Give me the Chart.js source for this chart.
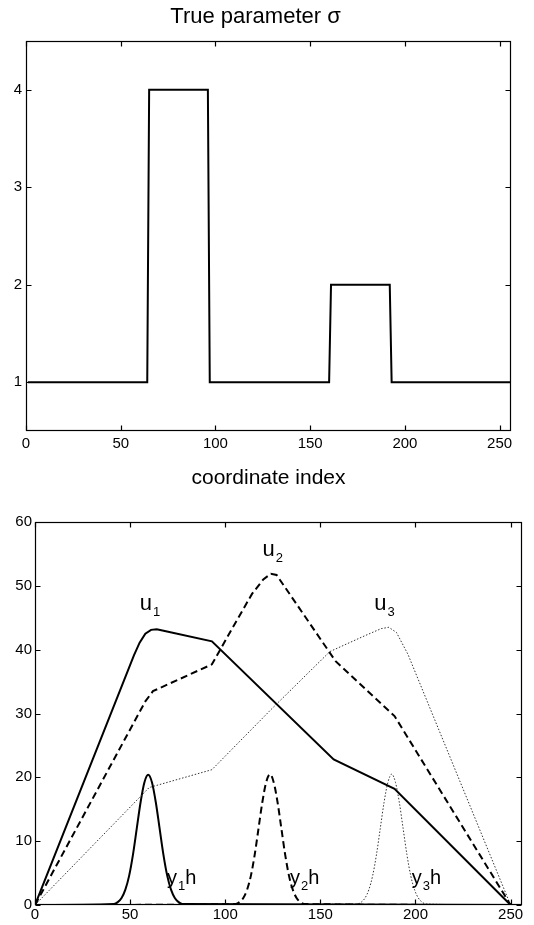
<!DOCTYPE html>
<html>
<head>
<meta charset="utf-8">
<script src="https://cdn.jsdelivr.net/npm/chart.js@4.4.1/dist/chart.umd.min.js"></script>
<style>
  html, body { margin: 0; padding: 0; background: #fff; }
  #wrap { position: relative; width: 534px; height: 925px; }
  .box { position: absolute; left: 0; width: 534px; }
  #top { top: 0; height: 500px; }
  #bottom { top: 500px; height: 425px; }
</style>
</head>
<body>
<div id="wrap">
  <div class="box" id="top"><canvas id="sigmaChart"></canvas></div>
  <div class="box" id="bottom"><canvas id="fieldChart"></canvas></div>
</div>
<script>
// top panel: true sigma (step function)
const sigmaX = [1, 64, 65, 96, 97, 160, 161, 192, 193, 256];
const sigmaY = [1, 1, 4, 4, 1, 1, 2, 2, 1, 1];
const sigmaTicksY = [1, 2, 3, 4];

// shared x ticks
const indexTicks = [0, 50, 100, 150, 200, 250];

// bottom panel: fields u1..u3
const u1X = [0, 52, 55, 58, 61, 64, 67, 93, 157, 189, 250];
const u1Y = [0, 39.1, 41.1, 42.5, 43.1, 43.2, 43.0, 41.3, 22.8, 18.2, 0];
const u2X = [0, 58, 62, 93, 104, 114, 120, 124, 127, 158, 189, 250];
const u2Y = [0, 31.9, 33.5, 37.7, 43.5, 48.7, 51.0, 51.9, 51.7, 38.2, 29.6, 0];
const u3X = [0, 60, 93, 124, 155, 172, 182, 186, 190, 196, 250];
const u3Y = [0, 18.4, 21.2, 30.6, 39.7, 42.0, 43.3, 43.5, 42.7, 39.3, 0];

// bottom panel: measurement bumps y1h..y3h
const y1hX = [0, 41.5, 43.5, 45.5, 47.5, 49.5, 51.5, 53.5, 55.5, 57.5, 59.5, 61.5, 63.5, 65.5, 67.5, 69.5, 71.5, 73.5, 75.5, 77.5, 256];
const y2hX = [0, 105.5, 107.5, 109.5, 111.5, 113.5, 115.5, 117.5, 119.5, 121.5, 123.5, 125.5, 127.5, 129.5, 131.5, 133.5, 135.5, 137.5, 139.5, 141.5, 256];
const y3hX = [0, 169.5, 171.5, 173.5, 175.5, 177.5, 179.5, 181.5, 183.5, 185.5, 187.5, 189.5, 191.5, 193.5, 195.5, 197.5, 199.5, 201.5, 203.5, 205.5, 256];
const y1hY = [0, 0.15, 0.45, 1.1, 2.4, 4.6, 7.9, 12.0, 16.1, 19.2, 20.4, 19.2, 16.1, 12.0, 7.9, 4.6, 2.4, 1.1, 0.45, 0.15, 0];
const y2hY = [0, 0.15, 0.45, 1.1, 2.4, 4.6, 7.9, 12.0, 16.1, 19.2, 20.5, 19.2, 16.1, 12.0, 7.9, 4.6, 2.4, 1.1, 0.45, 0.15, 0];
const y3hY = [0, 0.15, 0.45, 1.1, 2.4, 4.6, 7.9, 12.0, 16.1, 19.2, 20.5, 19.2, 16.1, 12.0, 7.9, 4.6, 2.4, 1.1, 0.45, 0.15, 0];
const fieldTicksY = [0, 10, 20, 30, 40, 50, 60];

// curve labels, placed in data units (left edge, baseline)
const curveLabels = [
  { main: 'u', sub: '1', tail: '', x: 55.1, y: 46.2 },
  { main: 'u', sub: '2', tail: '', x: 119.6, y: 54.6 },
  { main: 'u', sub: '3', tail: '', x: 178.3, y: 46.2 },
  { main: 'y', sub: '1', tail: 'h', x: 69.4, y: 3.3 },
  { main: 'y', sub: '2', tail: 'h', x: 134.1, y: 3.3 },
  { main: 'y', sub: '3', tail: 'h', x: 198.0, y: 3.3 }
];

const FONT = "'Liberation Sans', Arial, sans-serif";

function pts(xs, ys) {
  return xs.map((x, i) => ({ x: x, y: ys[i] }));
}

// matlab-style box with inward ticks on all four sides
const boxFrame = {
  id: 'boxFrame',
  afterDraw(chart) {
    const { ctx, chartArea: a, scales } = chart;
    const L = Math.round(a.left) + 0.5, R = Math.round(a.right) - 0.5;
    const T = Math.round(a.top) + 0.5, B = Math.round(a.bottom) - 0.5;
    ctx.save();
    ctx.strokeStyle = '#000';
    ctx.lineWidth = 1.2;
    ctx.strokeRect(L, T, R - L, B - T);
    ctx.beginPath();
    scales.x.ticks.forEach(t => {
      const px = Math.round(scales.x.getPixelForValue(t.value)) + 0.5;
      ctx.moveTo(px, B); ctx.lineTo(px, B - 5);
      ctx.moveTo(px, T); ctx.lineTo(px, T + 5);
    });
    scales.y.ticks.forEach(t => {
      const py = Math.round(scales.y.getPixelForValue(t.value)) + 0.5;
      ctx.moveTo(L, py); ctx.lineTo(L + 5, py);
      ctx.moveTo(R, py); ctx.lineTo(R - 5, py);
    });
    ctx.stroke();
    ctx.restore();
  }
};

const curveText = {
  id: 'curveText',
  afterDraw(chart) {
    const { ctx, scales } = chart;
    ctx.save();
    ctx.fillStyle = '#000';
    ctx.textBaseline = 'alphabetic';
    ctx.textAlign = 'left';
    curveLabels.forEach(l => {
      let px = scales.x.getPixelForValue(l.x);
      const py = scales.y.getPixelForValue(l.y);
      const big = l.main === 'u' ? 22 : 20;
      ctx.font = big + 'px ' + FONT;
      ctx.fillText(l.main, px, py);
      px += ctx.measureText(l.main).width + 1;
      ctx.font = '13px ' + FONT;
      ctx.fillText(l.sub, px, py + 6);
      px += ctx.measureText(l.sub).width;
      if (l.tail) {
        ctx.font = big + 'px ' + FONT;
        ctx.fillText(l.tail, px, py);
      }
    });
    ctx.restore();
  }
};

function xAxis(height, pad, titleOpts) {
  return {
    type: 'linear',
    min: 0,
    max: 256,
    afterBuildTicks: s => { s.ticks = indexTicks.map(v => ({ value: v })); },
    afterFit: s => { s.height = height; },
    grid: { display: false, drawTicks: false },
    border: { display: false },
    ticks: { color: '#000', padding: pad, maxRotation: 0, font: { family: FONT, size: 15 } },
    title: titleOpts
  };
}

function yAxis(width, min, max, tickList, pad) {
  return {
    type: 'linear',
    min: min,
    max: max,
    afterBuildTicks: s => { s.ticks = tickList.map(v => ({ value: v })); },
    afterFit: s => { s.width = width; },
    grid: { display: false, drawTicks: false },
    border: { display: false },
    ticks: { color: '#000', padding: pad, font: { family: FONT, size: 15 } }
  };
}

function drawSigma() {
  new Chart(document.getElementById('sigmaChart'), {
    type: 'line',
    data: {
      datasets: [{
        data: pts(sigmaX, sigmaY),
        borderColor: '#000',
        borderWidth: 2,
        pointRadius: 0,
        tension: 0
      }]
    },
    options: {
      responsive: true,
      maintainAspectRatio: false,
      animation: false,
      layout: { padding: { top: 0, right: 23, bottom: 0, left: 0 } },
      plugins: {
        legend: { display: false },
        tooltip: { enabled: false },
        title: {
          display: true,
          text: 'True parameter σ',
          color: '#000',
          font: { family: FONT, size: 22, weight: 'normal' },
          padding: { top: 4, bottom: 10.6 }
        }
      },
      scales: {
        x: xAxis(69, 4, {
          display: true,
          text: 'coordinate index',
          color: '#000',
          font: { family: FONT, size: 21 },
          padding: { top: 0, bottom: 9 }
        }),
        y: yAxis(26, 0.5, 4.5, sigmaTicksY, 4)
      }
    },
    plugins: [boxFrame]
  });
}

function drawFields() {
  const solid = { borderColor: '#000', borderWidth: 2, pointRadius: 0 };
  const dashed = { borderColor: '#000', borderWidth: 2, borderDash: [7, 4], pointRadius: 0 };
  const dotted = { borderColor: '#333', borderWidth: 1, borderDash: [1.5, 1.8], pointRadius: 0 };

  new Chart(document.getElementById('fieldChart'), {
    type: 'line',
    data: {
      datasets: [
        Object.assign({ label: 'u1', data: pts(u1X, u1Y), tension: 0 }, solid),
        Object.assign({ label: 'u2', data: pts(u2X, u2Y), tension: 0 }, dashed),
        Object.assign({ label: 'u3', data: pts(u3X, u3Y), tension: 0 }, dotted),
        Object.assign({ label: 'y1h', data: pts(y1hX, y1hY), cubicInterpolationMode: 'monotone' }, solid),
        Object.assign({ label: 'y2h', data: pts(y2hX, y2hY), cubicInterpolationMode: 'monotone' }, dashed),
        Object.assign({ label: 'y3h', data: pts(y3hX, y3hY), cubicInterpolationMode: 'monotone' }, dotted)
      ]
    },
    options: {
      responsive: true,
      maintainAspectRatio: false,
      animation: false,
      layout: { padding: { top: 22, right: 12, bottom: 0, left: 0 } },
      plugins: {
        legend: { display: false },
        tooltip: { enabled: false },
        title: { display: false }
      },
      scales: {
        x: xAxis(20, 1, { display: false }),
        y: yAxis(35, 0, 60, fieldTicksY, 3)
      }
    },
    plugins: [boxFrame, curveText]
  });
}

window.addEventListener('load', () => {
  drawSigma();
  drawFields();
});
</script>
</body>
</html>
